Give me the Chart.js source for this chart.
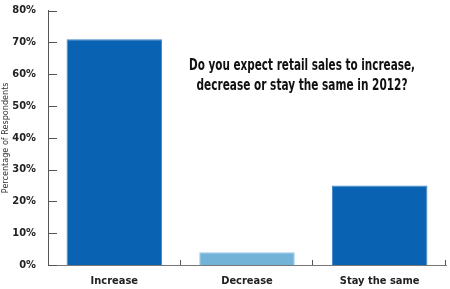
<!DOCTYPE html>
<html>
<head>
<meta charset="utf-8">
<script src="https://cdn.jsdelivr.net/npm/chart.js@4"></script>
<style>
  html, body { margin: 0; padding: 0; background: #fff; }
  #wrap { width: 450px; height: 289px; }
</style>
</head>
<body>
<div id="wrap"><canvas id="salesChart" width="450" height="289"></canvas></div>
<script>
// Chart data
const categories = ['Increase', 'Decrease', 'Stay the same'];
const responses = [71, 4, 25];
const barColors = ['#0a62b2', '#72b3d7', '#0a62b2'];
const yTicks = [0, 10, 20, 30, 40, 50, 60, 70, 80];
const titleLines = ['Do you expect retail sales to increase,', 'decrease or stay the same in 2012?'];

const narrow = '"DejaVu Sans Condensed", "Liberation Sans Narrow", sans-serif';

// Draws the inward tick marks and the question text
const extrasPlugin = {
    id: 'extras',
    afterDraw(chart) {
        const ctx = chart.ctx;
        const area = chart.chartArea;
        const x = chart.scales.x;
        const y = chart.scales.y;
        ctx.save();
        ctx.strokeStyle = '#555';
        ctx.lineWidth = 1;
        ctx.beginPath();
        yTicks.forEach(v => {
            const py = Math.round(y.getPixelForValue(v)) + 0.5;
            ctx.moveTo(area.left, py);
            ctx.lineTo(area.left + 9, py);
        });
        for (let i = 0; i < categories.length; i++) {
            let px;
            if (i < categories.length - 1) {
                px = (x.getPixelForValue(i) + x.getPixelForValue(i + 1)) / 2;
            } else {
                px = area.right;
            }
            px = Math.round(px) - 0.5;
            ctx.moveTo(px, area.bottom);
            ctx.lineTo(px, area.bottom - 5);
        }
        ctx.stroke();

        // question text, squeezed to the reference width
        ctx.fillStyle = '#111';
        ctx.font = 'bold 15px ' + narrow;
        ctx.textAlign = 'center';
        ctx.textBaseline = 'middle';
        const widths = [226, 211];
        const rows = [66, 86];
        titleLines.forEach((line, i) => {
            const w = ctx.measureText(line).width;
            const s = Math.min(1, widths[i] / w);
            ctx.save();
            ctx.translate(302, rows[i]);
            ctx.scale(s, 1);
            ctx.fillText(line, 0, 0);
            ctx.restore();
        });
        ctx.restore();
    }
};

const ctx = document.getElementById('salesChart').getContext('2d');
const salesChart = new Chart(ctx, {
    type: 'bar',
    data: {
        labels: categories,
        datasets: [{
            data: responses,
            backgroundColor: barColors,
            borderColor: ['#3f86c8', '#9ccbe6', '#3f86c8'],
            borderWidth: 1,
            barPercentage: 0.72,
            categoryPercentage: 1.0
        }]
    },
    options: {
        responsive: false,
        animation: false,
        layout: { padding: { top: 5, right: 4, left: 0, bottom: 0 } },
        plugins: {
            legend: { display: false },
            tooltip: { enabled: false }
        },
        scales: {
            x: {
                grid: { display: false },
                border: { display: true, color: '#777', width: 1 },
                ticks: {
                    color: '#222',
                    font: { family: narrow, size: 11, weight: 'bold' },
                    padding: 2,
                    maxRotation: 0
                },
                afterFit(scale) { scale.height = 24; }
            },
            y: {
                min: 0,
                max: 80,
                grid: { display: false },
                border: { display: true, color: '#555', width: 1 },
                ticks: {
                    stepSize: 10,
                    color: '#222',
                    padding: 4,
                    font: { family: narrow, size: 11, weight: 'bold' },
                    callback: v => v + '%'
                },
                title: {
                    display: true,
                    text: 'Percentage of Respondents',
                    color: '#333',
                    font: { family: narrow, size: 9 },
                    padding: { top: 0, bottom: 2 }
                },
                afterFit(scale) { scale.width = 48; }
            }
        }
    },
    plugins: [extrasPlugin]
});
</script>
</body>
</html>
